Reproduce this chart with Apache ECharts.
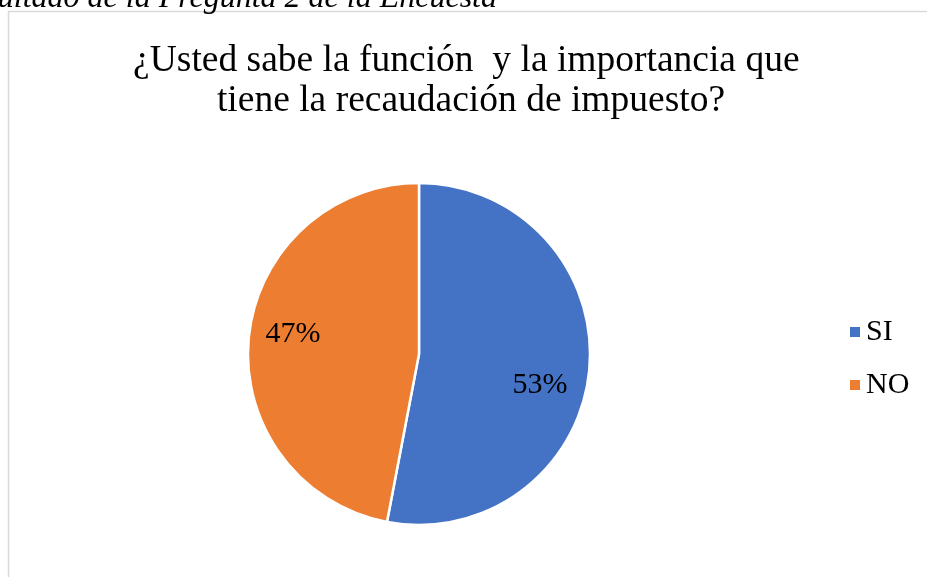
<!DOCTYPE html>
<html>
<head>
<meta charset="utf-8">
<script src="https://cdn.jsdelivr.net/npm/echarts@6/dist/echarts.min.js"></script>
<style>
  html, body { margin: 0; padding: 0; background: #fff; }
  #chart { width: 927px; height: 577px; }
</style>
</head>
<body>
<div id="chart"></div>
<script>
  // datos de la pregunta 2
  const categories = ['SI', 'NO']
  const values = [53, 47]
  const colors = ['#4472C4', '#ED7D31']
  // desplazamiento de las etiquetas (como Excel "ajuste óptimo")
  const labelOffsets = [[33, 23], [-38, -12]]

  const serif = '"Liberation Serif", "Times New Roman", serif'
  const myChart = echarts.init(document.getElementById('chart'))

  myChart.setOption({
    backgroundColor: '#fff',
    animation: false,
    color: colors,
    title: {
      text: '¿Usted sabe la función  y la importancia que \ntiene la recaudación de impuesto?',
      left: 466,
      textAlign: 'center',
      top: 36,
      textStyle: {
        fontFamily: serif,
        fontWeight: 'normal',
        fontSize: 37.5,
        lineHeight: 40,
        color: '#000'
      }
    },
    legend: {
      orient: 'vertical',
      left: 843,
      top: 312,
      itemWidth: 12,
      itemHeight: 12,
      itemGap: 23,
      icon: 'rect',
      data: categories,
      textStyle: {
        fontFamily: serif,
        fontSize: 30,
        color: '#000'
      }
    },
    graphic: [
      {
        type: 'rect',
        shape: { x: 8.5, y: 11.5, width: 940, height: 600 },
        style: { fill: 'none', stroke: '#d9d9d9', lineWidth: 1.5 },
        silent: true
      },
      {
        type: 'text',
        x: 497,
        y: 15,
        style: {
          text: 'Resultado de la Pregunta 2 de la Encuesta',
          font: 'italic 32px ' + serif,
          fill: '#000',
          align: 'right',
          verticalAlign: 'bottom'
        }
      }
    ],
    series: [
      {
        type: 'pie',
        center: [419, 354],
        radius: 171,
        startAngle: 90,
        clockwise: true,
        itemStyle: { borderColor: '#fff', borderWidth: 2.5 },
        label: {
          show: true,
          position: 'inside',
          formatter: '{d}%',
          fontFamily: serif,
          fontSize: 30,
          color: '#000'
        },
        labelLine: { show: false },
        emphasis: { disabled: true },
        data: categories.map((name, i) => ({
          name,
          value: values[i],
          label: { offset: labelOffsets[i] }
        }))
      }
    ]
  })
</script>
</body>
</html>
